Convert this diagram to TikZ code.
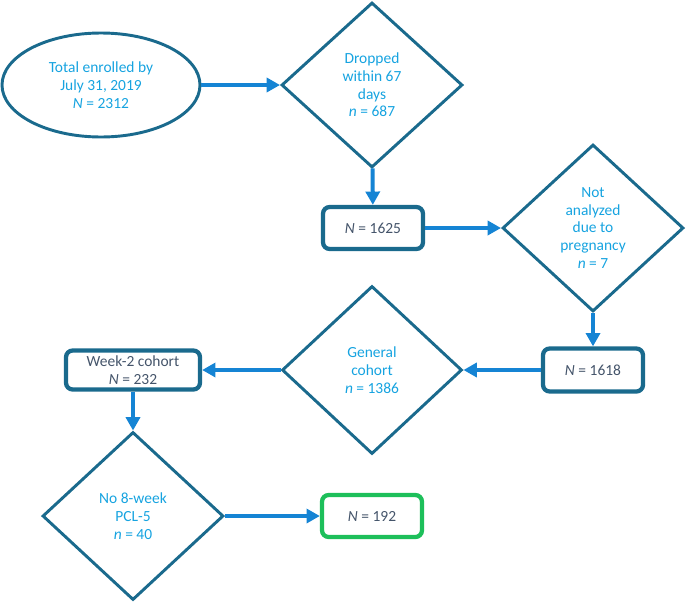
\documentclass[tikz,border=0pt]{standalone}
\usepackage{fontspec}
\setmainfont{Carlito}
\usetikzlibrary{shapes.geometric,arrows.meta}
\definecolor{edgec}{HTML}{1A6A8D}
\definecolor{txtc}{HTML}{16A3E0}
\definecolor{arrc}{HTML}{1584D4}
\definecolor{boxtxt}{HTML}{44546A}
\definecolor{grnc}{HTML}{1DBF5A}
\begin{document}
\begin{tikzpicture}[x=0.75pt,y=-0.75pt,
  lbl/.style={font=\fontsize{11.6}{13.3}\selectfont, align=center},
  dia/.style={lbl, diamond, draw=edgec, line width=2.2pt, inner sep=0pt, text=txtc},
  ovl/.style={lbl, ellipse, draw=edgec, line width=2.2pt, inner sep=0pt, text=txtc},
  bx/.style={lbl, rectangle, rounded corners=5pt, draw=edgec, line width=3.2pt, text=boxtxt, inner sep=0pt},
  flow/.style={draw=arrc, line width=3pt, -{Triangle[length=10pt,width=10.5pt]}}
]
\useasboundingbox (0,0) rectangle (688,604);
\node[ovl, minimum width=198*0.75pt, minimum height=104*0.75pt] (enr) at (101,85)
  {Total enrolled by\\July 31, 2019\\\textit{N} = 2312};
\node[dia, minimum width=181*0.75pt, minimum height=165*0.75pt] (drop) at (372,85)
  {Dropped\\within 67\\days\\\textit{n} = 687};
\node[bx, minimum width=100*0.75pt, minimum height=42*0.75pt] (b1625) at (373,228)
  {\textit{N} = 1625};
\node[dia, minimum width=181*0.75pt, minimum height=167*0.75pt] (preg) at (593,228)
  {Not\\analyzed\\due to\\pregnancy\\\textit{n} = 7};
\node[bx, minimum width=100*0.75pt, minimum height=43*0.75pt] (b1618) at (593,370)
  {\textit{N} = 1618};
\node[dia, minimum width=180*0.75pt, minimum height=168*0.75pt] (gen) at (372,370)
  {General\\cohort\\\textit{n} = 1386};
\node[bx, minimum width=134*0.75pt, minimum height=39*0.75pt] (wk2) at (133,370)
  {Week-2 cohort\\\textit{N} = 232};
\node[dia, minimum width=181*0.75pt, minimum height=168*0.75pt] (pcl) at (133,516)
  {No 8-week\\PCL-5\\\textit{n} = 40};
\node[bx, draw=grnc, minimum width=100*0.75pt, minimum height=42*0.75pt] (b192) at (372,516)
  {\textit{N} = 192};
\draw[flow] (enr) -- (drop);
\draw[flow] (drop) -- (b1625);
\draw[flow] (b1625) -- (preg);
\draw[flow] (preg) -- (b1618);
\draw[flow] (b1618) -- (gen);
\draw[flow] (gen) -- (wk2);
\draw[flow] (wk2) -- (pcl);
\draw[flow] (pcl) -- (b192);
\end{tikzpicture}
\end{document}
